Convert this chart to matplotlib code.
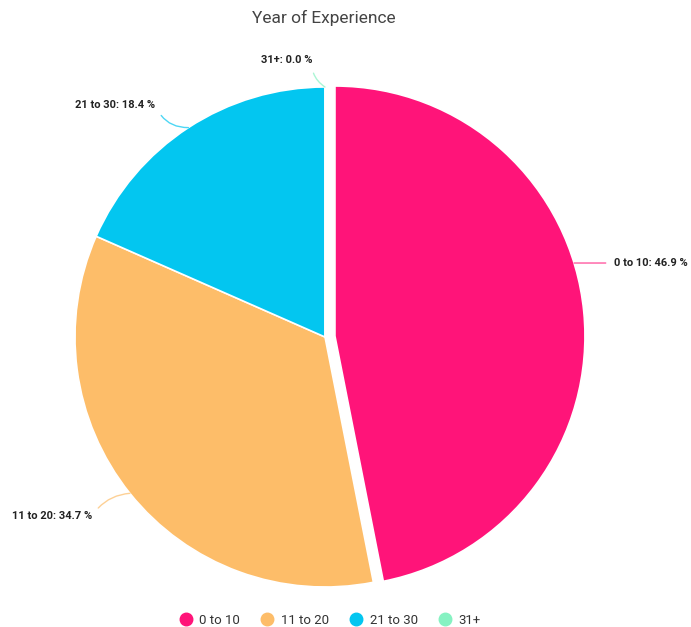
import matplotlib.pyplot as plt
import numpy as np

plt.rcParams['font.family'] = ['Roboto', 'DejaVu Sans']

# years of experience share (%)
categories = ['0 to 10', '11 to 20', '21 to 30', '31+']
shares = [46.9, 34.7, 18.4, 0.0]
colors = ['#ff1479', '#fdbd69', '#03c6f0', '#86f2c2']

W, H = 691, 627
R = 250.0          # pie radius in pixels
cx, cy = 325, 290  # pie centre, pixels from left / bottom

fig = plt.figure(figsize=(W / 100, H / 100), dpi=100)
ax = fig.add_axes([0, 0, 1, 1])
ax.set_aspect('equal')
ax.axis('off')

explode = [0.04, 0, 0, 0]
wedges, _ = ax.pie(shares, colors=colors, startangle=90, counterclock=False,
                   explode=explode, radius=1.0, center=(0, 0),
                   wedgeprops=dict(edgecolor='white', linewidth=1.2))
ax.set_xlim(-cx / R, (W - cx) / R)
ax.set_ylim(-cy / R, (H - cy) / R)

# label placement: angle nudge (deg), offset of text from the rim (px), alignment
nudge = [11.4, 0, 0, 0]
offsets = [(40, 0), (-38, -23), (-33, 23), (-13, 27)]
aligns = ['left', 'right', 'right', 'right']
rads = [0.0, -0.25, 0.35, 0.3]

for w, cat, s, col, ng, off, ha, rad in zip(wedges, categories, shares, colors,
                                            nudge, offsets, aligns, rads):
    mid = np.deg2rad((w.theta1 + w.theta2) / 2 + ng)
    x0, y0 = w.center
    px, py = x0 + np.cos(mid), y0 + np.sin(mid)
    ax.annotate(f'{cat}: {s:.1f} %', xy=(px, py), xytext=off,
                textcoords='offset pixels', ha=ha, va='center',
                fontsize=8, fontweight='bold', color='#222222',
                arrowprops=dict(arrowstyle='-', color=col, alpha=0.7, lw=1,
                                shrinkA=4, shrinkB=0,
                                relpos=(0, 0.5) if ha == 'left' else (1, 0.5),
                                connectionstyle=f'arc3,rad={rad}'))

fig.text(324 / W, 1 - 18 / H, 'Year of Experience', ha='center', va='center',
         fontsize=12.5, color='#444444')

handles = [plt.Line2D([], [], marker='o', ls='', markersize=9,
                      markerfacecolor=c, markeredgecolor=c) for c in colors]
fig.legend(handles, categories, loc='center', bbox_to_anchor=(330 / W, 1 - 620 / H),
           ncol=4, frameon=False, fontsize=9.5, handlelength=1.0,
           handletextpad=0.5, columnspacing=1.6, labelcolor='#333333')

fig.savefig('out.png', dpi=100)
